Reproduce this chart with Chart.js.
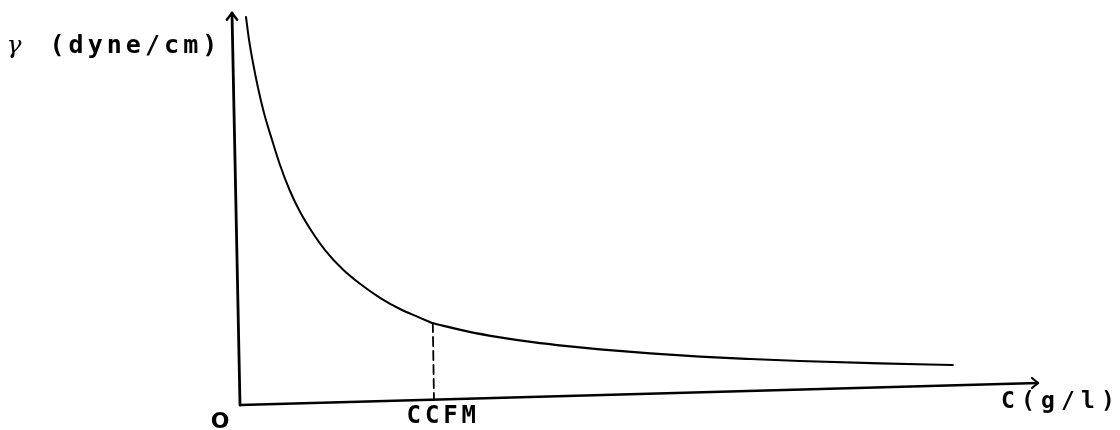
<!DOCTYPE html>
<html>
<head>
<meta charset="utf-8">
<title>Surface tension vs concentration</title>
<script src="https://cdn.jsdelivr.net/npm/chart.js@4.4.1/dist/chart.umd.min.js"></script>
<style>
  html, body { margin: 0; padding: 0; background: #ffffff; }
  canvas { display: block; }
</style>
</head>
<body>
<canvas id="chart" width="1120" height="430"></canvas>
<script>
// Concentration C (arbitrary units) and surface tension gamma (arbitrary units)
// Steep branch below the critical concentration
const concBelow  = [0.75, 1.13, 1.63, 2.25, 3.0, 4.0, 5.0, 6.25, 7.5, 9.0, 10.6, 12.9, 15.0, 17.5, 20.0, 22.5, 24.0];
const gammaBelow = [97, 91.3, 85.5, 79.3, 73, 66.3, 60, 53.5, 48.3, 43.3, 38.8, 33.8, 30.3, 26.8, 24, 21.8, 20.5];
// Flat branch above the critical concentration
const concAbove  = [24.0, 28.4, 32.5, 36.6, 40.9, 45, 51.3, 57.5, 63.8, 70, 80, 89.1];
const gammaAbove = [20.5, 18.4, 16.9, 15.7, 14.7, 13.9, 12.9, 12.1, 11.5, 11, 10.4, 10];

// Critical concentration marker
const ccfmConc = [24.1, 24.25];
const ccfmGamma = [20.5, 1.25];

// Axis lines (with arrow heads)
const yAxisConc  = [-1, 0];
const yAxisGamma = [98, 0];
const xAxisConc  = [0, 99.75];
const xAxisGamma = [0, 5.5];
const yArrowConc  = [-1.65, -1, -0.35];
const yArrowGamma = [96.3, 98, 96.3];
const xArrowConc  = [99.0, 99.75, 99.0];
const xArrowGamma = [6.75, 5.5, 4.25];

// Text labels
const yTitle = ['γ', '(dyne/cm)'];
const xTitle = 'C(g/l)';
const originLabel = 'O';
const ccfmLabel = 'CCFM';

const pts = (xs, ys) => xs.map((x, i) => ({ x: x, y: ys[i] }));

const ink = '#000000';

const textPlugin = {
  id: 'figureText',
  afterDraw(chart) {
    const ctx = chart.ctx;
    const xs = chart.scales.x, ys = chart.scales.y;
    const spaced = (text, cx0, step, baseline) => {
      for (let i = 0; i < text.length; i++) {
        ctx.fillText(text[i], cx0 + step * i, baseline);
      }
    };
    ctx.save();
    ctx.fillStyle = ink;
    ctx.textAlign = 'center';
    ctx.textBaseline = 'alphabetic';

    // y-axis title next to the arrow
    const yTop = ys.getPixelForValue(yAxisGamma[0]);
    const yLeft = xs.getPixelForValue(yAxisConc[0]);
    ctx.font = 'italic 25px "DejaVu Serif"';
    ctx.fillText(yTitle[0], yLeft - 218, yTop + 40);
    ctx.font = 'bold 25px "DejaVu Sans Mono"';
    spaced(yTitle[1], yLeft - 175, 19.1, yTop + 40);

    // origin
    const ox = xs.getPixelForValue(0), oy = ys.getPixelForValue(0);
    ctx.font = 'bold 22px "DejaVu Sans"';
    ctx.fillText(originLabel, ox - 20, oy + 23);

    // critical concentration
    ctx.font = 'bold 24px "DejaVu Sans Mono"';
    spaced(ccfmLabel, xs.getPixelForValue(ccfmConc[0]) - 19, 18.3, oy + 18);

    // x-axis title after the arrow
    const xEnd = xs.getPixelForValue(xAxisConc[1]);
    const xEndY = ys.getPixelForValue(xAxisGamma[1]);
    ctx.font = 'bold 23px "DejaVu Sans Mono"';
    spaced(xTitle, xEnd - 30, 20, xEndY + 25);
    ctx.restore();
  }
};

const bgPlugin = {
  id: 'whiteBg',
  beforeDraw(chart) {
    const ctx = chart.ctx;
    ctx.save();
    ctx.fillStyle = '#ffffff';
    ctx.fillRect(0, 0, chart.width, chart.height);
    ctx.restore();
  }
};

const lineStyle = (width) => ({
  borderColor: ink,
  borderWidth: width,
  pointRadius: 0,
  fill: false,
  showLine: true,
  tension: 0
});

new Chart(document.getElementById('chart'), {
  type: 'scatter',
  data: {
    datasets: [
      Object.assign(lineStyle(2), { label: 'below', data: pts(concBelow, gammaBelow),
        cubicInterpolationMode: 'monotone' }),
      Object.assign(lineStyle(2.2), { label: 'above', data: pts(concAbove, gammaAbove),
        cubicInterpolationMode: 'monotone' }),
      Object.assign(lineStyle(1.8), { label: 'ccfm', data: pts(ccfmConc, ccfmGamma),
        borderDash: [9, 5] }),
      Object.assign(lineStyle(2.8), { label: 'yAxis', data: pts(yAxisConc, yAxisGamma) }),
      Object.assign(lineStyle(2.4), { label: 'xAxis', data: pts(xAxisConc, xAxisGamma) }),
      Object.assign(lineStyle(2.4), { label: 'yArrow', data: pts(yArrowConc, yArrowGamma) }),
      Object.assign(lineStyle(2.2), { label: 'xArrow', data: pts(xArrowConc, xArrowGamma) })
    ]
  },
  options: {
    responsive: false,
    animation: false,
    devicePixelRatio: 1,
    layout: { padding: 0 },
    plugins: {
      legend: { display: false },
      tooltip: { enabled: false },
      title: { display: false }
    },
    scales: {
      x: { type: 'linear', min: -30, max: 110, display: false },
      y: { type: 'linear', min: -6.25, max: 101.25, display: false }
    },
    elements: { line: { borderCapStyle: 'round', borderJoinStyle: 'round' } }
  },
  plugins: [bgPlugin, textPlugin]
});
</script>
</body>
</html>
